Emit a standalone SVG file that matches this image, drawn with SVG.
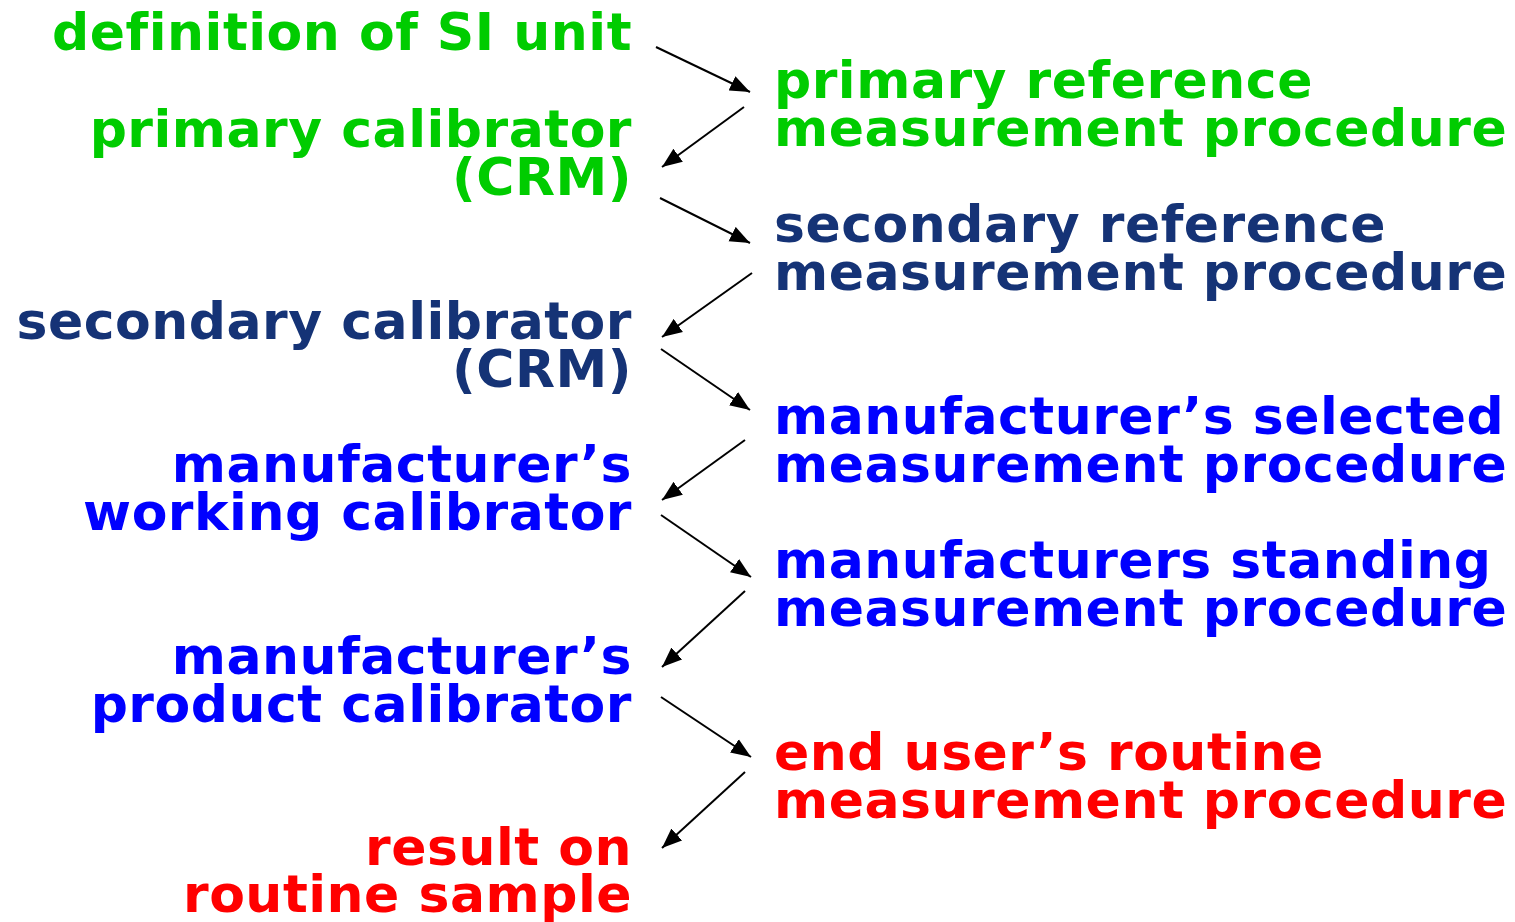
<svg xmlns="http://www.w3.org/2000/svg" width="1515" height="922" viewBox="0 0 1515 922">
<style>
text{font-family:"DejaVu Sans",Verdana,sans-serif;font-weight:bold;font-size:52px;letter-spacing:0.5px}
.l{text-anchor:end}
.g{fill:#00cc00}.n{fill:#153376}.b{fill:#0000ff}.r{fill:#ff0000}
.c line{stroke:#000;stroke-width:2;marker-end:url(#ah)}
</style>
<defs>
<marker id="ah" markerUnits="userSpaceOnUse" markerWidth="21" markerHeight="17" refX="20" refY="8" orient="auto" viewBox="0 0 21 16">
<path d="M0,0 L20,8 L0,16 Z" fill="#000"/>
</marker>
</defs>
<rect width="1515" height="922" fill="#fff"/>
<g id="n1"><text class="l g" x="632" y="50">definition of SI unit</text></g>
<g id="n2"><text class="g" x="774" y="98">primary reference</text><text class="g" x="774" y="146">measurement procedure</text></g>
<g id="n3"><text class="l g" x="632" y="147">primary calibrator</text><text class="l g" x="632" y="195">(CRM)</text></g>
<g id="n4"><text class="n" x="774" y="242">secondary reference</text><text class="n" x="774" y="290">measurement procedure</text></g>
<g id="n5"><text class="l n" x="632" y="339">secondary calibrator</text><text class="l n" x="632" y="387">(CRM)</text></g>
<g id="n6"><text class="b" x="774" y="434">manufacturer’s selected</text><text class="b" x="774" y="482">measurement procedure</text></g>
<g id="n7"><text class="l b" x="632" y="482">manufacturer’s</text><text class="l b" x="632" y="530">working calibrator</text></g>
<g id="n8"><text class="b" x="774" y="578">manufacturers standing</text><text class="b" x="774" y="626">measurement procedure</text></g>
<g id="n9"><text class="l b" x="632" y="674">manufacturer’s</text><text class="l b" x="632" y="722">product calibrator</text></g>
<g id="n10"><text class="r" x="774" y="770">end user’s routine</text><text class="r" x="774" y="818">measurement procedure</text></g>
<g id="n11"><text class="l r" x="632" y="865">result on</text><text class="l r" x="632" y="912">routine sample</text></g>
<g id="connectors" class="c">
<line x1="656" y1="47" x2="750" y2="92"/>
<line x1="744" y1="107" x2="662" y2="167"/>
<line x1="660" y1="198" x2="750" y2="243"/>
<line x1="752" y1="273" x2="662" y2="337"/>
<line x1="661" y1="349" x2="750" y2="410"/>
<line x1="745" y1="440" x2="662" y2="500"/>
<line x1="661" y1="515" x2="751" y2="577"/>
<line x1="745" y1="591" x2="662" y2="667"/>
<line x1="661" y1="697" x2="751" y2="757"/>
<line x1="745" y1="772" x2="662" y2="848"/>
</g>
</svg>
